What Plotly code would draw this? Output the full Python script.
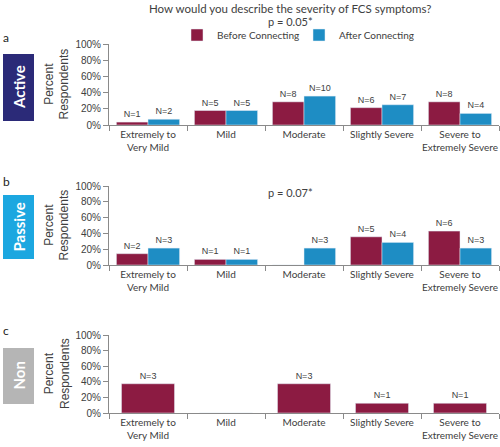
import plotly.graph_objects as go

# ---------------- data ----------------
categories = ["Extremely to<br>Very Mild", "Mild", "Moderate", "Slightly Severe", "Severe to<br>Extremely Severe"]

active_before_pct = [3.6, 17.9, 28.6, 21.4, 28.6]
active_after_pct = [7.1, 17.9, 35.7, 25.0, 14.3]
active_before_n = ["N=1", "N=5", "N=8", "N=6", "N=8"]
active_after_n = ["N=2", "N=5", "N=10", "N=7", "N=4"]

passive_before_pct = [14.3, 7.1, 0, 35.7, 42.9]
passive_after_pct = [21.4, 7.1, 21.4, 28.6, 21.4]
passive_before_n = ["N=2", "N=1", "", "N=5", "N=6"]
passive_after_n = ["N=3", "N=1", "N=3", "N=4", "N=3"]

non_before_pct = [37.5, 0, 37.5, 12.5, 12.5]
non_before_n = ["N=3", "", "N=3", "N=1", "N=1"]

y_ticks = [0, 20, 40, 60, 80, 100]
y_tick_labels = ["0%", "20%", "40%", "60%", "80%", "100%"]
title_text = "How would you describe the severity of FCS symptoms?"
p_active = "p = 0.05*"
p_passive = "p = 0.07*"

# ---------------- style ----------------
W, H = 500, 447
BEFORE = "#8C1B42"
AFTER = "#1E8DC4"
TXT = "#404040"
AX = "#8a8a8a"
CAT_FONT = "Lato, Liberation Sans, Arial"
NUM_FONT = "Liberation Sans, Arial"


def py(px):
    return 1 - px / H


def pxx(px):
    return px / W


panels = [
    # (top px, bottom px, label, box color, box top, box bottom, letter y)
    (44, 125, "Active", "#2B2A78", 54, 121, 37),
    (186, 265, "Passive", "#1CA7E0", 195, 259, 181),
    (335, 413, "Non", "#B5B5B5", 348, 404, 330),
]

fig = go.Figure()

traces = [
    (1, "Before Connecting", active_before_pct, active_before_n, BEFORE, True),
    (1, "After Connecting", active_after_pct, active_after_n, AFTER, True),
    (2, "Before Connecting", passive_before_pct, passive_before_n, BEFORE, False),
    (2, "After Connecting", passive_after_pct, passive_after_n, AFTER, False),
    (3, "Before Connecting", non_before_pct, non_before_n, BEFORE, False),
]

for row, name, vals, ns, col, show in traces:
    suffix = "" if row == 1 else str(row)
    kw = {}
    if row == 3:
        kw["width"] = 0.68
    fig.add_trace(go.Bar(
        x=categories, y=vals, name=name, marker_color=col,
        text=ns, textposition="outside", constraintext="none",
        textfont=dict(size=9, color=TXT, family=NUM_FONT),
        cliponaxis=False, showlegend=show, legendgroup=name,
        xaxis="x" + suffix, yaxis="y" + suffix, hoverinfo="x+y", **kw
    ))

layout = dict(
    width=W, height=H, margin=dict(l=0, r=0, t=0, b=0, autoexpand=False),
    paper_bgcolor="white", plot_bgcolor="white",
    barmode="group", bargap=0.19, bargroupgap=0,
    font=dict(family=CAT_FONT, color=TXT),
    legend=dict(orientation="h", x=pxx(177), y=py(35), xanchor="left", yanchor="middle",
                font=dict(size=10, color=TXT, family=CAT_FONT), itemwidth=30,
                entrywidth=77, entrywidthmode="pixels", bgcolor="rgba(0,0,0,0)",
                traceorder="normal"),
)

shapes = []
annotations = []


def ann(text, x, y, size, color=TXT, family=CAT_FONT, angle=0):
    annotations.append(dict(text=text, xref="paper", yref="paper", x=pxx(x), y=py(y),
                            xanchor="center", yanchor="middle", showarrow=False,
                            textangle=angle, font=dict(size=size, color=color, family=family)))


for i, (top, bot, lab, bcol, btop, bbot, ly) in enumerate(panels):
    suffix = "" if i == 0 else str(i + 1)
    layout["xaxis" + suffix] = dict(
        domain=[pxx(109), pxx(499)], anchor="y" + suffix, automargin=False,
        showline=True, linecolor=AX, linewidth=1, tickangle=0,
        ticks="outside", tickson="boundaries", ticklen=5, tickcolor=AX,
        tickfont=dict(size=10, color=TXT, family=CAT_FONT),
        showgrid=False, zeroline=False, fixedrange=True,
    )
    layout["yaxis" + suffix] = dict(
        domain=[py(bot), py(top)], anchor="x" + suffix, range=[0, 100], automargin=False,
        tickmode="array", tickvals=y_ticks, ticktext=y_tick_labels,
        showline=True, linecolor=AX, linewidth=1,
        ticks="outside", ticklen=5, tickcolor=AX,
        tickfont=dict(size=10, color=TXT, family=NUM_FONT),
        showgrid=False, zeroline=False, fixedrange=True,
    )
    shapes.append(dict(type="rect", xref="paper", yref="paper",
                       x0=pxx(3), x1=pxx(34), y0=py(bbot), y1=py(btop),
                       fillcolor=bcol, line=dict(width=0)))
    ann("<b>%s</b>" % lab, 18.5, (btop + bbot) / 2, 15, "white", CAT_FONT, -90)
    ann("abc"[i], 6, ly, 12, "#222", CAT_FONT)
    ann("Percent<br>Respondents", 57, (top + bot) / 2, 12, TXT, NUM_FONT, -90)

ann(title_text, 290, 9, 11.5)
ann(p_active, 290, 21, 11)
ann(p_passive, 290, 192, 11)

layout["shapes"] = shapes
layout["annotations"] = annotations
fig.update_layout(**layout)

fig.write_html("out.html", config={"displayModeBar": False},
               post_script="document.body.style.margin='0';document.body.style.overflow='hidden';")
